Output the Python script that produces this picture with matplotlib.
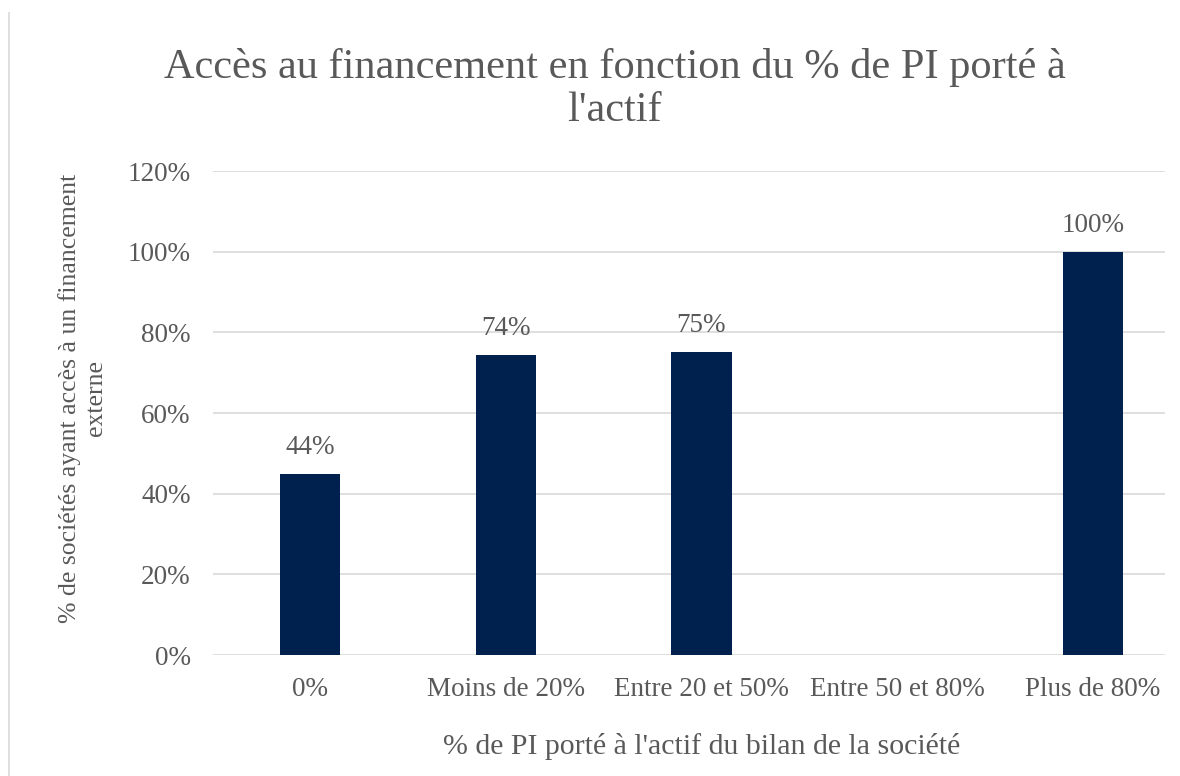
import numpy as np
import matplotlib.pyplot as plt
from matplotlib.lines import Line2D
from matplotlib.ticker import PercentFormatter

categories = ["0%", "Moins de 20%", "Entre 20 et 50%", "Entre 50 et 80%", "Plus de 80%"]
values = [0.448, 0.743, 0.752, np.nan, 1.0]
value_labels = ["44%", "74%", "75%", "", "100%"]

plt.rcParams['font.family'] = ['Liberation Serif', 'DejaVu Serif']
grey = "#595959"

fig = plt.figure(figsize=(11.8, 7.76), dpi=100)
ax = fig.add_axes([0.1805, 0.1559, 0.8068, 0.6237])

x = np.arange(len(categories))
bars = ax.bar(x, values, width=0.307, color="#00204E", zorder=3)

for rect, lab, v in zip(bars, value_labels, values):
    if lab:
        ax.annotate(lab, (rect.get_x() + rect.get_width() / 2, v),
                    xytext=(0, 10), textcoords="offset points",
                    ha="center", va="bottom", fontsize=19.5, color=grey)

# plot area of the original runs a bit past the right edge of the picture
ax.set_xlim(-0.4955, 4.368)
ax.set_ylim(0, 1.2)
ax.set_yticks(np.arange(0, 1.21, 0.2))
ax.yaxis.set_major_formatter(PercentFormatter(1.0, decimals=0))
ax.set_xticks(x)
ax.set_xticklabels(categories)
ax.tick_params(axis="both", length=0, labelsize=19.5, labelcolor=grey)
ax.tick_params(axis="y", pad=16)
ax.tick_params(axis="x", pad=16)

ax.grid(axis="y", color="#D9D9D9", linewidth=1.2, zorder=0)
for s in ax.spines.values():
    s.set_visible(False)

ax.set_xlabel("% de PI porté à l'actif du bilan de la société",
              fontsize=21.5, color=grey)
ax.xaxis.set_label_coords(0.5137, -0.161)
ax.set_ylabel("% de sociétés ayant accès à un financement\nexterne",
              fontsize=18.5, color=grey, linespacing=1.25)
ax.yaxis.set_label_coords(-0.111, 0.531)

fig.text(0.521, 0.885, "Accès au financement en fonction du % de PI porté à\nl'actif",
         ha="center", va="center", fontsize=30.5, color=grey, linespacing=1.15)

fig.add_artist(Line2D([0.008, 0.008], [0, 0.983], color="#D9D9D9", linewidth=1.2))

fig.savefig("out.png", dpi=100)
